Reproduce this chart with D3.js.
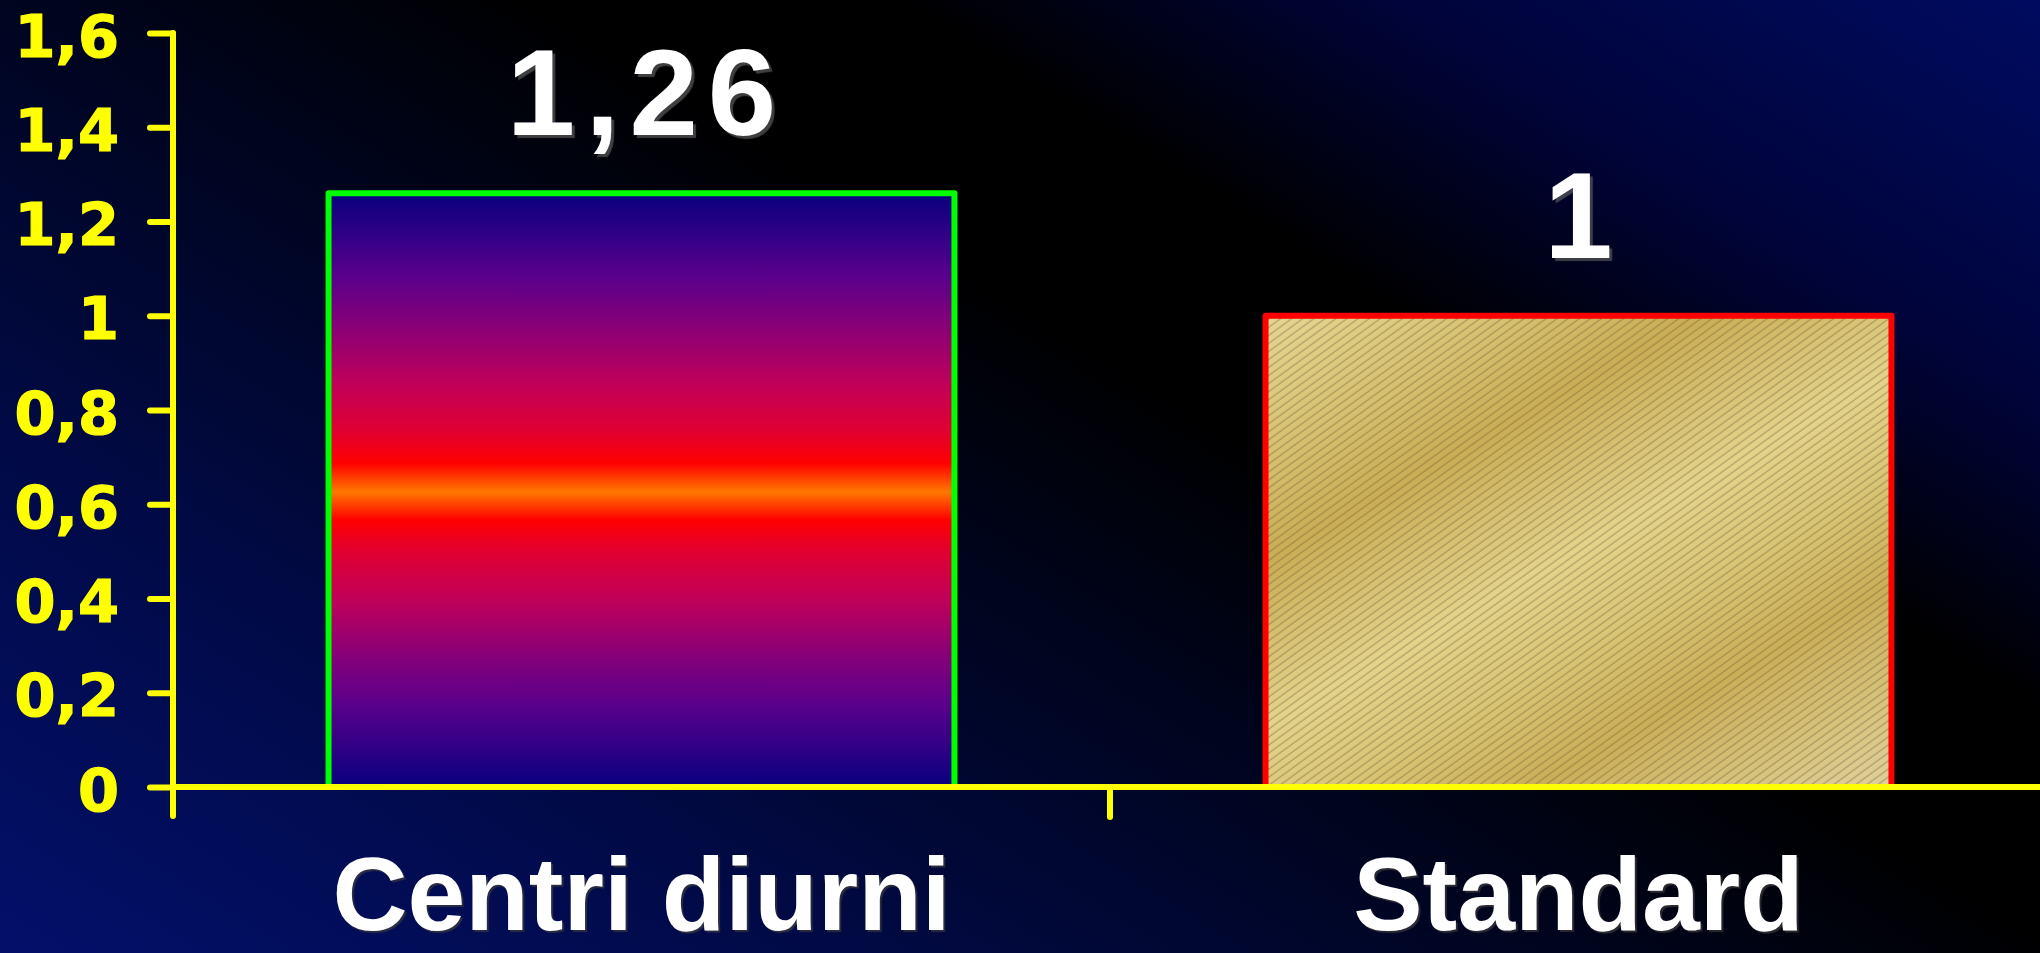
<!DOCTYPE html>
<html>
<head>
<meta charset="utf-8">
<script src="https://cdn.jsdelivr.net/npm/d3@7/dist/d3.min.js"></script>
<style>
  html, body { margin: 0; padding: 0; background: #000; overflow: hidden; }
  svg { display: block; }
  .tick-label { font-family: "DejaVu Sans", Verdana, sans-serif; font-weight: bold; }
  .big { font-family: "Liberation Sans", Arial, sans-serif; font-weight: bold; fill: #fff; }
</style>
</head>
<body>
<svg id="chart" width="2040" height="953"></svg>
<script>
// Rapporto tra i due gruppi
const categories = ["Centri diurni", "Standard"];
const values = [1.26, 1];
const yTicks = [0, 0.2, 0.4, 0.6, 0.8, 1, 1.2, 1.4, 1.6];
const yTickLabels = ["0", "0,2", "0,4", "0,6", "0,8", "1", "1,2", "1,4", "1,6"];
const barStrokes = ["#00ff00", "#ff0000"];

const W = 2040, H = 953;
const it = d3.formatLocale({ decimal: ",", thousands: ".", grouping: [3], currency: ["", " €"] });
const fmtValue = it.format(".2~f");

const svg = d3.select("#chart");
const defs = svg.append("defs");

// scales: each category owns one band; the plot runs past the right edge
const y = d3.scaleLinear().domain([0, 1.6]).range([787, 33]);
const x = d3.scaleBand().domain(categories).range([173, 2047]).paddingInner(0.332).paddingOuter(0.166);
const x0 = x.range()[0];

// background: navy corners, black diagonal
const bg = defs.append("linearGradient").attr("id", "bg")
  .attr("gradientUnits", "userSpaceOnUse")
  .attr("x1", 0).attr("y1", H).attr("x2", 993).attr("y2", H - 1602);
[[0, "#03106a"], [0.2, "#010b4c"], [0.42, "#000522"], [0.58, "#000000"], [0.68, "#000000"], [0.82, "#00043a"], [1, "#000b60"]]
  .forEach(([o, c]) => bg.append("stop").attr("offset", o).attr("stop-color", c));
svg.append("rect").attr("width", W).attr("height", H).attr("fill", "url(#bg)");

// first bar: navy -> magenta -> red -> orange core, mirrored
const g1 = defs.append("linearGradient").attr("id", "fire").attr("x1", 0).attr("y1", 0).attr("x2", 0).attr("y2", 1);
[[0, "#08007f"], [0.14, "#5a008c"], [0.22, "#860078"], [0.32, "#c0005a"], [0.40, "#e00032"], [0.455, "#ff0000"],
 [0.503, "#ff7800"], [0.55, "#ff0000"], [0.605, "#e00032"], [0.685, "#c0005a"], [0.78, "#860078"], [0.86, "#5a008c"], [1, "#08007f"]]
  .forEach(([o, c]) => g1.append("stop").attr("offset", o).attr("stop-color", c));

// second bar: brushed gold with fine diagonal hatching
const gx = x(categories[1]), gy = y(values[1]);
const gold = defs.append("linearGradient").attr("id", "gold")
  .attr("gradientUnits", "userSpaceOnUse")
  .attr("x1", gx).attr("y1", gy).attr("x2", gx + 350).attr("y2", gy + 622);
[[0, "#e6d694"], [0.12, "#dcc87a"], [0.3, "#caad55"], [0.5, "#e4d38b"], [0.62, "#dac675"], [0.76, "#cbae58"], [0.9, "#d8c47e"], [1, "#e0d09a"]]
  .forEach(([o, c]) => gold.append("stop").attr("offset", o).attr("stop-color", c));
const hatch = defs.append("pattern").attr("id", "hatch")
  .attr("patternUnits", "userSpaceOnUse").attr("width", 12).attr("height", 6.5)
  .attr("patternTransform", "rotate(-36)");
hatch.append("line").attr("x1", 0).attr("x2", 12).attr("y1", 3).attr("y2", 3)
  .attr("stroke", "rgba(95,82,45,0.5)").attr("stroke-width", 1);

const fills = ["url(#fire)", "url(#gold)"];

const bars = svg.append("g").selectAll("g").data(categories).join("g");
bars.append("rect")
  .attr("x", d => x(d)).attr("y", (d, i) => y(values[i]))
  .attr("width", x.bandwidth()).attr("height", (d, i) => y(0) - y(values[i]))
  .attr("fill", (d, i) => fills[i]);
bars.filter((d, i) => i === 1).append("rect")
  .attr("x", d => x(d)).attr("y", y(values[1]))
  .attr("width", x.bandwidth()).attr("height", y(0) - y(values[1]))
  .attr("fill", "url(#hatch)");
bars.append("rect")
  .attr("x", d => x(d)).attr("y", (d, i) => y(values[i]))
  .attr("width", x.bandwidth()).attr("height", (d, i) => y(0) - y(values[i]))
  .attr("fill", "none").attr("stroke", (d, i) => barStrokes[i])
  .attr("stroke-width", 6).attr("stroke-linejoin", "round");

// value labels
const spacing = 10;
svg.append("g").selectAll("text").data(categories).join("text")
  .attr("class", "big")
  .attr("x", d => x(d) + x.bandwidth() / 2 + spacing / 2)
  .attr("y", (d, i) => y(values[i]) - 58)
  .attr("text-anchor", "middle")
  .style("font-size", "123px")
  .style("letter-spacing", spacing + "px")
  .style("text-shadow", "3px 3px 1px rgba(90,90,90,0.7)")
  .text((d, i) => fmtValue(values[i]));

// category labels
svg.append("g").selectAll("text").data(categories).join("text")
  .attr("class", "big")
  .attr("x", d => x(d) + x.bandwidth() / 2)
  .attr("y", 930)
  .attr("text-anchor", "middle")
  .style("font-size", "104px")
  .style("text-shadow", "2px 2px 1px rgba(60,60,60,0.7)")
  .text(d => d);

// axes
const axisColor = "#ffff00";
const yAxis = d3.axisLeft(y).tickValues(yTicks).tickSize(23).tickPadding(31)
  .tickFormat((d, i) => yTickLabels[i]);
const ya = svg.append("g").attr("transform", `translate(${x0},0)`).call(yAxis);
ya.select(".domain").remove();
ya.selectAll(".tick line").attr("stroke", axisColor).attr("stroke-width", 6).attr("stroke-linecap", "round");
ya.selectAll(".tick text").attr("class", "tick-label").attr("fill", axisColor)
  .attr("stroke", axisColor).attr("stroke-width", 1.2)
  .attr("dy", "23px").style("font-size", "59px");

// vertical axis line, running a little past the baseline
svg.append("line")
  .attr("x1", x0).attr("x2", x0).attr("y1", y(1.6)).attr("y2", y(0) + 29)
  .attr("stroke", axisColor).attr("stroke-width", 6).attr("stroke-linecap", "round");
// baseline
svg.append("line")
  .attr("x1", x0).attr("x2", W + 10).attr("y1", y(0)).attr("y2", y(0))
  .attr("stroke", axisColor).attr("stroke-width", 6).attr("stroke-linecap", "round");
// category separator ticks at band boundaries
svg.append("g").selectAll("line").data(d3.range(1, categories.length)).join("line")
  .attr("x1", d => x0 + d * x.step()).attr("x2", d => x0 + d * x.step())
  .attr("y1", y(0)).attr("y2", y(0) + 30)
  .attr("stroke", axisColor).attr("stroke-width", 6).attr("stroke-linecap", "round");
</script>
</body>
</html>
